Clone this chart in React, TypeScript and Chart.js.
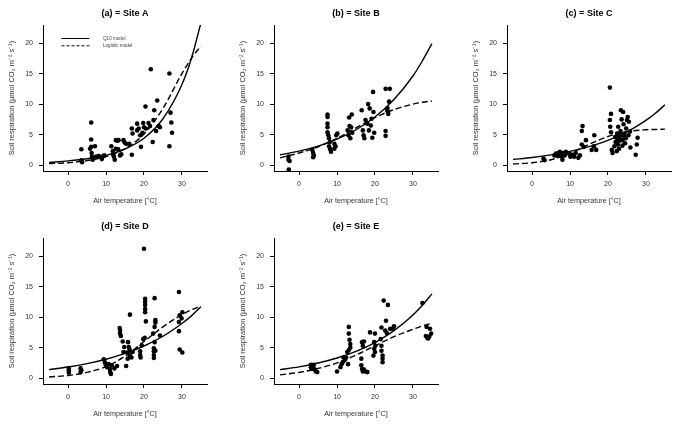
import React, { useEffect, useRef } from 'react';
import { Chart, registerables } from 'chart.js';

Chart.register(...registerables);

// Model curve sample temperatures (°C)
const curveT = [-5, 0, 5, 10, 15, 20, 25, 30, 32.5, 35];

// Site A
const tempA = [3.5, 3.5, 3.7, 6.1, 6.1, 6.1, 5.8, 7.1, 6.2, 6.3, 6.5, 7.4, 8.1, 8.9, 9.1, 9.5, 11.4, 11.8, 11.9, 12.1, 12.3, 12.6, 13.0, 13.3, 12.6, 13.2, 13.7, 14.0, 14.6, 14.9, 15.3, 16.1, 16.8, 17.0, 16.8, 18.2, 18.2, 18.6, 19.2, 19.0, 19.6, 19.8, 20.4, 20.5, 21.2, 21.6, 21.8, 22.3, 22.7, 23.2, 23.5, 23.9, 24.2, 26.7, 26.7, 27.0, 27.2, 27.4, 22.5, 20.0];
const respA = [2.6, 0.8, 0.5, 7.0, 4.2, 3.0, 2.7, 3.1, 2.0, 1.4, 0.9, 1.4, 1.5, 1.0, 1.4, 1.6, 3.1, 2.3, 1.7, 1.4, 0.9, 4.1, 4.0, 4.1, 2.7, 2.6, 1.6, 1.8, 4.1, 3.7, 3.5, 3.5, 1.7, 5.2, 6.0, 6.8, 5.7, 6.0, 3.0, 4.9, 5.3, 6.9, 9.6, 6.0, 6.9, 6.4, 15.7, 3.8, 9.0, 5.6, 10.6, 6.4, 6.2, 15.0, 3.1, 8.6, 7.0, 5.3, 7.4, 6.2];
const q10A = [0.45, 0.7, 1.05, 1.6, 2.65, 4.4, 7.6, 13.2, 17.5, 23.3];
const logA = [0.25, 0.4, 0.75, 1.4, 2.7, 5.1, 9.3, 15.0, 17.5, 19.5];

// Site B
const tempB = [-2.8, -2.8, -2.5, -2.7, 3.5, 3.7, 3.9, 3.7, 7.5, 7.5, 7.5, 7.5, 7.5, 7.7, 7.9, 8.1, 7.9, 8.2, 8.4, 9.3, 9.6, 9.8, 10.1, 9.3, 12.8, 13.2, 13.9, 13.0, 13.5, 13.7, 14.0, 13.3, 16.5, 16.8, 17.0, 17.2, 17.5, 18.0, 18.2, 18.6, 18.9, 19.1, 19.5, 19.6, 19.3, 19.8, 18.4, 22.8, 23.9, 23.2, 23.5, 23.7, 22.8, 22.8, 23.3];
const respB = [1.4, 0.9, 0.7, -0.7, 2.5, 2.0, 1.6, 1.3, 8.3, 7.9, 6.8, 6.2, 5.4, 4.9, 4.4, 3.8, 3.1, 2.6, 2.2, 2.7, 3.1, 4.9, 5.2, 3.5, 5.7, 7.8, 8.3, 4.9, 4.4, 6.2, 5.3, 6.4, 9.0, 5.7, 4.9, 4.4, 7.4, 6.8, 10.0, 9.3, 6.5, 7.6, 12.0, 8.7, 4.5, 5.3, 5.7, 12.5, 12.5, 8.9, 8.4, 10.4, 5.6, 4.8, 9.3];
const q10B = [1.7, 2.3, 3.13, 4.26, 5.8, 7.9, 10.75, 14.6, 17.1, 19.9];
const logB = [1.2, 2.0, 3.0, 4.4, 6.1, 7.8, 9.1, 10.0, 10.3, 10.5];

// Site C
const tempC = [3.0, 3.3, 5.9, 6.3, 6.7, 7.0, 7.3, 7.6, 7.9, 8.0, 8.2, 8.6, 8.9, 9.8, 10.1, 10.7, 11.1, 11.5, 12.2, 12.6, 13.1, 13.3, 13.1, 13.6, 14.2, 15.7, 16.3, 16.4, 16.9, 20.5, 20.8, 20.5, 20.6, 20.8, 21.0, 21.2, 21.7, 22.0, 22.2, 22.4, 22.6, 22.9, 23.1, 23.3, 23.4, 24.0, 23.6, 24.1, 24.3, 24.7, 24.8, 25.0, 25.2, 25.5, 25.4, 23.4, 22.7, 25.9, 27.3, 27.6, 27.8, 23.8, 21.9, 22.5, 23.0, 24.5, 23.8, 22.3, 24.2, 25.8];
const respC = [1.1, 0.8, 1.6, 1.9, 1.5, 2.0, 2.2, 1.7, 1.4, 0.9, 2.0, 1.6, 2.2, 1.9, 1.4, 1.7, 1.4, 2.0, 1.2, 1.6, 3.4, 6.4, 5.6, 3.0, 4.1, 2.5, 3.1, 4.9, 2.5, 12.7, 8.4, 7.4, 6.3, 5.4, 2.5, 2.0, 3.1, 3.8, 4.6, 5.2, 3.4, 2.7, 4.4, 5.6, 9.0, 8.7, 7.5, 6.7, 5.2, 4.4, 6.0, 7.4, 7.9, 7.1, 4.9, 4.9, 6.3, 2.9, 1.7, 3.4, 4.5, 4.1, 4.6, 4.1, 4.0, 3.6, 3.2, 2.3, 4.8, 5.5];
const q10C = [0.93, 1.25, 1.68, 2.26, 3.03, 4.07, 5.47, 7.35, 8.5, 9.9];
const logC = [0.2, 0.4, 0.9, 1.9, 3.4, 4.7, 5.5, 5.8, 5.85, 5.9];

// Site D
const tempD = [0.2, 0.2, 0.2, 3.3, 3.5, 3.3, 9.4, 9.7, 9.9, 10.3, 10.7, 11.0, 11.1, 11.3, 11.5, 12.2, 12.9, 13.6, 13.7, 13.7, 13.9, 14.4, 14.8, 14.6, 15.3, 15.8, 16.0, 16.2, 16.3, 15.5, 15.7, 16.3, 16.7, 17.0, 19.0, 19.0, 19.1, 19.4, 19.8, 20.0, 20.3, 20.3, 20.3, 20.3, 20.3, 20.5, 20.2, 22.8, 23.0, 23.0, 22.8, 22.4, 22.8, 22.6, 22.6, 22.6, 22.6, 23.0, 24.2, 29.2, 29.4, 29.2, 29.2, 29.4, 30.1, 30.1, 29.9];
const respD = [1.6, 1.3, 0.9, 1.6, 1.3, 1.0, 3.1, 2.6, 2.2, 1.8, 2.3, 1.5, 1.0, 0.7, 2.1, 1.6, 2.0, 8.2, 7.8, 7.3, 6.9, 6.0, 5.1, 4.3, 2.0, 5.9, 5.1, 4.7, 10.4, 4.2, 3.2, 3.7, 3.4, 4.3, 4.4, 3.8, 3.4, 5.4, 6.4, 21.2, 13.0, 12.5, 12.0, 11.3, 10.8, 9.3, 6.6, 13.1, 9.5, 9.1, 8.4, 7.3, 5.9, 4.9, 4.4, 3.8, 3.3, 4.5, 7.0, 14.1, 10.3, 9.2, 7.7, 4.7, 4.2, 10.8, 9.8];
const q10D = [1.4, 1.83, 2.38, 3.1, 4.05, 5.27, 6.87, 8.96, 10.2, 11.7];
const logD = [0.2, 0.45, 0.95, 1.9, 3.6, 6.0, 8.4, 10.4, 11.2, 11.8];

// Site E
const tempE = [3.1, 3.1, 3.3, 3.5, 3.8, 4.2, 4.4, 4.8, 3.9, 10.0, 10.9, 11.2, 11.5, 11.7, 12.1, 12.4, 12.7, 13.1, 13.1, 13.3, 13.5, 13.5, 12.9, 13.1, 16.4, 16.4, 16.6, 16.8, 17.1, 17.5, 18.0, 16.6, 16.8, 17.1, 18.7, 19.8, 20.0, 19.8, 20.0, 19.6, 20.1, 21.5, 21.7, 21.7, 22.0, 22.0, 22.0, 21.7, 22.3, 22.9, 23.4, 23.1, 24.0, 24.7, 25.0, 22.7, 32.5, 33.6, 33.4, 33.8, 34.3, 34.8, 34.0, 34.5];
const respE = [2.2, 1.8, 1.5, 2.0, 1.6, 1.4, 1.1, 1.0, 2.2, 1.1, 1.8, 2.3, 2.6, 3.4, 3.0, 3.4, 4.3, 8.4, 7.3, 6.3, 5.6, 5.0, 2.3, 4.6, 3.2, 2.1, 1.5, 1.1, 1.4, 1.1, 1.0, 5.9, 5.3, 6.0, 7.5, 5.9, 7.3, 4.8, 4.3, 3.7, 5.3, 6.4, 5.3, 4.5, 3.7, 3.2, 2.6, 8.3, 12.7, 9.4, 12.0, 7.4, 8.1, 8.1, 8.5, 7.8, 12.3, 8.4, 6.9, 6.6, 6.8, 7.3, 6.5, 8.1];
const q10E = [1.4, 1.86, 2.48, 3.3, 4.39, 5.84, 7.78, 10.36, 11.95, 13.8];
const logE = [0.55, 0.95, 1.6, 2.5, 3.8, 5.3, 6.8, 8.0, 8.55, 9.0];

const xTickValues = [0, 10, 20, 30];
const yTickValues = [0, 5, 10, 15, 20];
const legendLabels = ['Q10 model', 'Logistic model'];

const FONT = '"Liberation Sans", Arial, sans-serif';

const legendPlugin = {
  id: 'rLegend',
  afterDraw(chart: any) {
    const opts = chart.options.plugins.rLegend;
    if (!opts || !opts.show) return;
    const { ctx, chartArea } = chart;
    const x0 = chartArea.left + 18.5;
    const x1 = chartArea.left + 46.5;
    const rows = [
      { y: chartArea.top + 13.5, dash: [] as number[], text: legendLabels[0] },
      { y: chartArea.top + 20.8, dash: [3, 2], text: legendLabels[1] },
    ];
    ctx.save();
    rows.forEach((r) => {
      ctx.beginPath();
      ctx.setLineDash(r.dash);
      ctx.strokeStyle = '#000';
      ctx.lineWidth = 1;
      ctx.moveTo(x0, r.y);
      ctx.lineTo(x1, r.y);
      ctx.stroke();
      ctx.setLineDash([]);
      ctx.fillStyle = '#444';
      ctx.font = `4.6px ${FONT}`;
      ctx.textBaseline = 'middle';
      ctx.textAlign = 'left';
      ctx.fillText(r.text, chartArea.left + 60, r.y);
    });
    ctx.restore();
  },
};

type PanelProps = {
  left: number;
  top: number;
  width: number;
  height: number;
  title: string;
  temps: number[];
  resp: number[];
  q10: number[];
  logi: number[];
  legend?: boolean;
};

function Panel({ left, top, width, height, title, temps, resp, q10, logi, legend }: PanelProps) {
  const ref = useRef<HTMLCanvasElement>(null);
  useEffect(() => {
    if (!ref.current) return;
    const pts = temps.map((t, i) => ({ x: t, y: resp[i] }));
    const q10Line = curveT.map((t, i) => ({ x: t, y: q10[i] }));
    const logLine = curveT.map((t, i) => ({ x: t, y: logi[i] }));
    const chart = new Chart(ref.current, {
      type: 'scatter',
      data: {
        datasets: [
          {
            label: 'Observed',
            data: pts,
            pointRadius: 2.3,
            pointBackgroundColor: '#000',
            pointBorderColor: '#000',
            pointBorderWidth: 0,
          } as any,
          {
            label: legendLabels[0],
            data: q10Line,
            showLine: true,
            borderColor: '#000',
            backgroundColor: 'transparent',
            borderWidth: 1.4,
            pointRadius: 0,
            cubicInterpolationMode: 'monotone',
          } as any,
          {
            label: legendLabels[1],
            data: logLine,
            showLine: true,
            borderColor: '#000',
            backgroundColor: 'transparent',
            borderWidth: 1.4,
            borderDash: [6, 3],
            pointRadius: 0,
            cubicInterpolationMode: 'monotone',
          } as any,
        ],
      },
      options: {
        animation: false,
        responsive: false,
        events: [],
        layout: { padding: { left: 0, right: width - 207, top: 0, bottom: 0 } },
        plugins: {
          legend: { display: false },
          tooltip: { enabled: false },
          title: {
            display: true,
            text: title,
            fullSize: false,
            color: '#000',
            font: { family: FONT, size: 9, weight: 'bold', lineHeight: 1.2 },
            padding: { top: 8.6, bottom: 5.6 },
          },
          rLegend: { show: !!legend },
        } as any,
        scales: {
          x: {
            type: 'linear',
            min: -6.6,
            max: 36.6,
            afterFit: (s: any) => {
              s.height = 42;
            },
            afterBuildTicks: (s: any) => {
              s.ticks = xTickValues.map((v) => ({ value: v }));
            },
            ticks: {
              color: '#333',
              font: { family: FONT, size: 7 },
              padding: 5,
              maxRotation: 0,
            },
            grid: { drawOnChartArea: false, drawTicks: true, tickLength: 4, color: '#000', lineWidth: 1 },
            border: { display: true, color: '#000', width: 1 },
            title: {
              display: true,
              text: 'Air temperature [°C]',
              color: '#333',
              font: { family: FONT, size: 7.2, lineHeight: 1.2 },
              padding: { top: 0, bottom: 8 },
            },
          },
          y: {
            type: 'linear',
            min: -0.95,
            max: 22.95,
            afterFit: (s: any) => {
              s.width = 43;
            },
            afterBuildTicks: (s: any) => {
              s.ticks = yTickValues.map((v) => ({ value: v }));
            },
            ticks: {
              color: '#333',
              font: { family: FONT, size: 7 },
              padding: 6,
            },
            grid: { drawOnChartArea: false, drawTicks: true, tickLength: 4, color: '#000', lineWidth: 1 },
            border: { display: true, color: '#000', width: 1 },
            title: {
              display: true,
              text: 'Soil respiration (µmol CO₂ m⁻² s⁻¹)',
              color: '#333',
              font: { family: FONT, size: 7.5, lineHeight: 1.2 },
              padding: { top: 7.5, bottom: 0 },
            },
          },
        },
      } as any,
      plugins: [legendPlugin],
    });
    return () => chart.destroy();
  }, []);
  return (
    <canvas
      ref={ref}
      width={width}
      height={height}
      style={{ position: 'absolute', left, top, width, height }}
    />
  );
}

export default function App() {
  return (
    <div style={{ position: 'absolute', left: 0, top: 0, width: 677, height: 426, background: '#fff', overflow: 'hidden' }}>
      <Panel left={0} top={0} width={226} height={213} title="(a) = Site A" temps={tempA} resp={respA} q10={q10A} logi={logA} legend />
      <Panel left={231} top={0} width={226} height={213} title="(b) = Site B" temps={tempB} resp={respB} q10={q10B} logi={logB} />
      <Panel left={464} top={0} width={213} height={213} title="(c) = Site C" temps={tempC} resp={respC} q10={q10C} logi={logC} />
      <Panel left={0} top={213} width={226} height={213} title="(d) = Site D" temps={tempD} resp={respD} q10={q10D} logi={logD} />
      <Panel left={231} top={213} width={226} height={213} title="(e) = Site E" temps={tempE} resp={respE} q10={q10E} logi={logE} />
    </div>
  );
}
